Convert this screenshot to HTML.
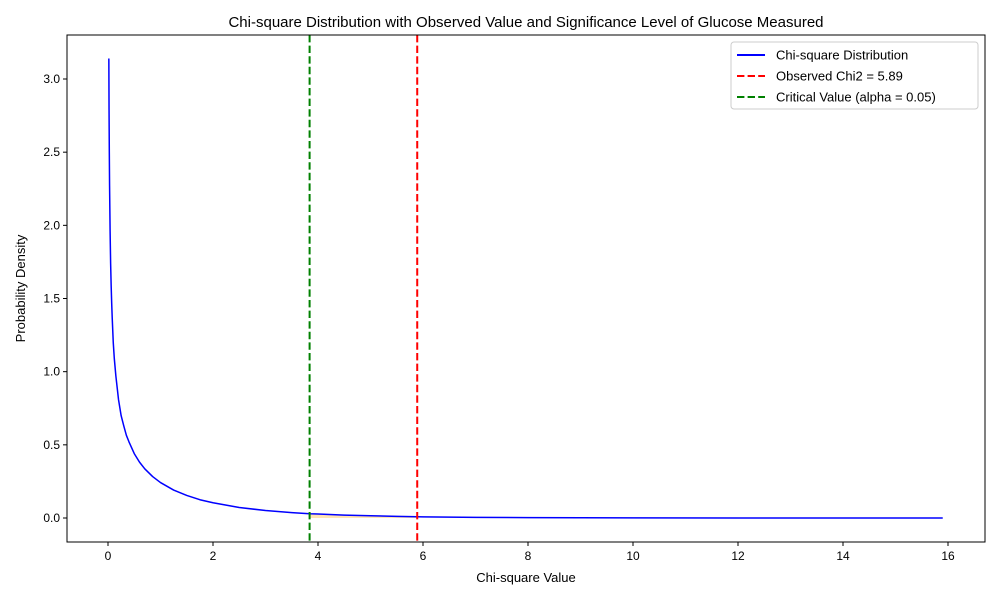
<!DOCTYPE html>
<html><head><meta charset="utf-8"><style>
body{margin:0;background:#fff;font-family:"Liberation Sans",sans-serif}
</style></head><body>
<svg id="chart" width="1000" height="600" xmlns="http://www.w3.org/2000/svg" font-family="Liberation Sans, sans-serif">
<rect width="1000" height="600" fill="#fff"/>
<g id="plot"></g>
</svg>
<script>
const curveX=[0.016,0.02,0.025,0.03,0.04,0.05,0.06,0.07,0.08,0.1,0.12,0.15,0.2,0.25,0.3,0.35,0.4,0.5,0.6,0.7,0.85,1.0,1.25,1.5,1.75,2,2.5,3,3.5,3.84,4,4.5,5,5.5,5.89,6,7,8,10,12,14,15.9];
const curveY=[3.14,2.79,2.50,2.27,1.96,1.74,1.59,1.47,1.37,1.20,1.09,0.97,0.81,0.70,0.63,0.565,0.52,0.44,0.382,0.336,0.283,0.242,0.191,0.154,0.125,0.104,0.072,0.051,0.037,0.029,0.027,0.020,0.015,0.0113,0.0089,0.0081,0.0045,0.0025,0.0008,0.0003,0.0001,0.00003];
const observed=5.89, critical=3.84;
const xTicks=[0,2,4,6,8,10,12,14,16];
const yTicks=[0.0,0.5,1.0,1.5,2.0,2.5,3.0];
const L=67,R=985,T=35,B=542;
const sx=v=>108+v*52.5, sy=v=>518-v*146.33;
const ns="http://www.w3.org/2000/svg";
const g=document.getElementById('plot');
function mk(t,a,txt){const e=document.createElementNS(ns,t);for(const k in a)e.setAttribute(k,a[k]);if(txt!==undefined)e.textContent=txt;g.appendChild(e);return e;}
let fp=[];for(let i=0;i<curveX.length;i++){if(curveX[i]>=critical&&curveX[i]<=observed)fp.push(sx(curveX[i])+','+sy(curveY[i]));}
const fill=mk('polygon',{points:sx(critical)+','+sy(0)+' '+fp.join(' ')+' '+sx(observed)+','+sy(0),fill:'#ffa500',opacity:0.3});


const curve=mk('polyline',{points:curveX.map((x,i)=>sx(x)+','+sy(curveY[i])).join(' '),fill:'none',stroke:'#0000ff','stroke-width':1.5,'stroke-linejoin':'round'});


const gl=mk('line',{x1:sx(critical),x2:sx(critical),y1:T,y2:B,stroke:'#008000','stroke-width':2,'stroke-dasharray':'7.4,3.2'});


const rl=mk('line',{x1:sx(observed),x2:sx(observed),y1:T,y2:B,stroke:'#ff0000','stroke-width':2,'stroke-dasharray':'7.4,3.2'});


const fr=mk('rect',{x:L,y:T,width:R-L,height:B-T,fill:'none',stroke:'#000','stroke-width':1});


xTicks.forEach(v=>{const x=sx(v);mk('line',{x1:x,x2:x,y1:B,y2:B+4,stroke:'#000'});
const t=mk('text',{x:x,y:B+18,'text-anchor':'middle','font-size':12},String(v));

});
yTicks.forEach(v=>{const y=sy(v);mk('line',{x1:L-4,x2:L,y1:y,y2:y,stroke:'#000'});
const t=mk('text',{x:L-7,y:y+4,'text-anchor':'end','font-size':12},v.toFixed(1));

});
const xt=mk('text',{x:(L+R)/2,y:582,'text-anchor':'middle','font-size':13},'Chi-square Value');


const yt=mk('text',{x:25,y:(T+B)/2,'text-anchor':'middle','font-size':13,transform:'rotate(-90 25 '+(T+B)/2+')'},'Probability Density');


const tt=mk('text',{x:(L+R)/2,y:27,'text-anchor':'middle','font-size':15},'Chi-square Distribution with Observed Value and Significance Level of Glucose Measured');


const lb=mk('rect',{x:731,y:42,width:247,height:67,rx:3,fill:'#fff',stroke:'#ccc'});


[['Chi-square Distribution','#0000ff',''],['Observed Chi2 = 5.89','#ff0000','7.4,3.2'],['Critical Value (alpha = 0.05)','#008000','7.4,3.2']].forEach((e,i)=>{const y=55+i*21;
mk('line',{x1:737,x2:765,y1:y,y2:y,stroke:e[1],'stroke-width':2,'stroke-dasharray':e[2]});
const t=mk('text',{x:776,y:y+4.5,'font-size':13},e[0]);

});
</script>
</body></html>
